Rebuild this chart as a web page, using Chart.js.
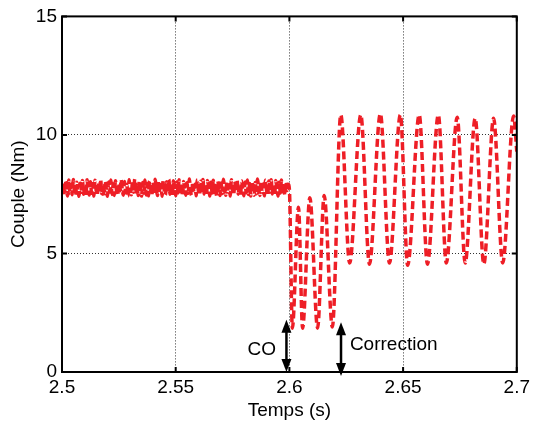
<!DOCTYPE html>
<html>
<head>
<meta charset="utf-8">
<script src="https://cdn.jsdelivr.net/npm/chart.js@4.4.0/dist/chart.umd.min.js"></script>
<style>
  html, body { margin: 0; padding: 0; background: #fff; }
</style>
</head>
<body>
<canvas id="chart1" width="534" height="425"></canvas>
<script>
// couple mesuré : bruit avant le défaut, puis oscillations
const noiseStart = 2.5;
const noiseStep = 0.0005;
const noiseTorque = [
  7.62, 7.98, 7.45, 8.05, 7.70, 7.42, 8.10, 7.55, 7.92, 7.48,
  8.12, 7.60, 7.44, 8.00, 7.75, 7.41, 7.96, 7.58, 8.08, 7.50,
  7.85, 7.43, 8.11, 7.66, 7.47, 8.03, 7.54, 7.94, 7.42, 8.09,
  7.68, 7.46, 7.99, 7.57, 8.13, 7.52, 7.88, 7.44, 8.06, 7.72,
  7.41, 8.01, 7.59, 8.10, 7.49, 7.93, 7.45, 8.07, 7.64, 7.43,
  7.97, 7.53, 8.12, 7.70, 7.46, 8.04, 7.56, 7.90, 7.42, 8.11,
  7.63, 7.48, 8.02, 7.58, 8.14, 7.51, 7.87, 7.44, 8.08, 7.74,
  7.42, 7.99, 7.55, 8.10, 7.47, 7.95, 7.43, 8.05, 7.67, 7.45,
  8.00, 7.52, 8.13, 7.71, 7.44, 8.06, 7.57, 7.91, 7.41, 8.09,
  7.65, 7.47, 8.03, 7.60, 8.12, 7.50, 7.89, 7.43, 8.07, 7.73,
  7.44, 8.01, 7.56, 8.11, 7.48, 7.96, 7.42, 8.04, 7.69, 7.46,
  7.98, 7.54, 8.14, 7.66, 7.45, 8.02, 7.59, 7.92, 7.43, 8.10,
  7.62, 7.49, 8.05, 7.57, 8.12, 7.51, 7.86, 7.44, 8.08, 7.75,
  7.42, 8.00, 7.55, 8.09, 7.47, 7.94, 7.43, 8.06, 7.68, 7.45,
  7.97, 7.53, 8.13, 7.70, 7.46, 8.03, 7.58, 7.90, 7.42, 8.11,
  7.64, 7.48, 8.04, 7.60, 8.12, 7.50, 7.88, 7.44, 8.07, 7.72,
  7.43, 8.01, 7.56, 8.10, 7.49, 7.95, 7.42, 8.05, 7.67, 7.46,
  7.99, 7.52, 8.14, 7.69, 7.45, 8.02, 7.57, 7.93, 7.43, 8.09,
  7.63, 7.47, 8.06, 7.59, 8.11, 7.51, 7.87, 7.44, 8.08, 7.74,
  7.42, 8.00, 7.55, 8.10, 7.48, 7.96, 7.45, 8.03, 7.66, 7.92,
  7.70
];

const oscTime = [
  2.6013, 2.6040, 2.6058, 2.6090, 2.6124, 2.6153, 2.6189,
  2.6226, 2.6265, 2.6314, 2.6352, 2.6400, 2.6440, 2.6488, 2.6520,
  2.6571, 2.6607, 2.6655, 2.6690, 2.6738, 2.6773, 2.6817, 2.6855,
  2.6898, 2.6938, 2.6986, 2.7000
];
const oscTorque = [
  1.85, 6.95, 1.85, 7.35, 1.85, 7.45, 1.90,
  10.85, 4.60, 10.85, 4.55, 10.90, 4.60, 10.85, 4.50,
  10.85, 4.55, 10.85, 4.60, 10.75, 4.60, 10.70, 4.55,
  10.70, 4.60, 10.80, 9.30
];

const xTicks = [2.5, 2.55, 2.6, 2.65, 2.7];
const yTicks = [0, 5, 10, 15];

// annotations (flèches doubles + texte)
const noteLabels = ['CO', 'Correction'];
const noteArrowX = [2.5987, 2.6227];
const noteArrowFrom = [0, -0.17];
const noteArrowTo = [2.2, 2.1];
const noteTextX = [2.5878, 2.6266];
const noteTextY = [0.93, 1.14];

const fontFamily = '"Liberation Sans", Arial, Helvetica, sans-serif';

const points = noiseTorque.map((v, i) => ({ x: noiseStart + i * noiseStep, y: v }))
  .concat(oscTime.map((t, i) => ({ x: t, y: oscTorque[i] })));

function drawArrowHead(ctx, x, y, dir) {
  // dir = -1 pointe vers le haut, 1 vers le bas
  ctx.beginPath();
  ctx.moveTo(x, y);
  ctx.lineTo(x - 5, y - dir * 13);
  ctx.lineTo(x + 5, y - dir * 13);
  ctx.closePath();
  ctx.fill();
}

const framePlugin = {
  id: 'frame',
  afterDraw(chart) {
    const ctx = chart.ctx;
    const area = chart.chartArea;
    const xs = chart.scales.x;
    const ys = chart.scales.y;
    ctx.save();
    ctx.strokeStyle = '#000';
    ctx.fillStyle = '#000';
    ctx.lineWidth = 2;
    ctx.strokeRect(area.left, area.top, area.right - area.left, area.bottom - area.top);

    // petites graduations vers l'intérieur
    xTicks.forEach(v => {
      const px = xs.getPixelForValue(v);
      ctx.beginPath();
      ctx.moveTo(px, area.bottom); ctx.lineTo(px, area.bottom - 5);
      ctx.moveTo(px, area.top); ctx.lineTo(px, area.top + 5);
      ctx.stroke();
    });
    yTicks.forEach(v => {
      const py = ys.getPixelForValue(v);
      ctx.beginPath();
      ctx.moveTo(area.left, py); ctx.lineTo(area.left + 5, py);
      ctx.moveTo(area.right, py); ctx.lineTo(area.right - 5, py);
      ctx.stroke();
    });

    // flèches
    noteLabels.forEach((label, i) => {
      const px = xs.getPixelForValue(noteArrowX[i]);
      const y1 = ys.getPixelForValue(noteArrowFrom[i]);
      const y2 = ys.getPixelForValue(noteArrowTo[i]);
      ctx.lineWidth = 2.5;
      ctx.beginPath();
      ctx.moveTo(px, y1 - 8); ctx.lineTo(px, y2 + 8);
      ctx.stroke();
      drawArrowHead(ctx, px, y2, -1);
      drawArrowHead(ctx, px, y1, 1);

      ctx.font = '19px ' + fontFamily;
      ctx.textBaseline = 'middle';
      ctx.textAlign = i === 0 ? 'center' : 'left';
      ctx.fillText(label, xs.getPixelForValue(noteTextX[i]), ys.getPixelForValue(noteTextY[i]));
    });
    ctx.restore();
  }
};

const ctx = document.getElementById('chart1').getContext('2d');
const torqueChart = new Chart(ctx, {
  type: 'line',
  data: {
    datasets: [{
      data: points,
      borderColor: 'rgb(238, 30, 38)',
      borderWidth: 3.5,
      borderDash: [8, 4],
      pointRadius: 0,
      cubicInterpolationMode: 'monotone',
      fill: false
    }]
  },
  options: {
    responsive: false,
    animation: false,
    layout: { padding: { top: 16, right: 14, left: 0, bottom: 0 } },
    plugins: { legend: { display: false }, tooltip: { enabled: false } },
    scales: {
      x: {
        type: 'linear',
        min: 2.5,
        max: 2.7,
        afterBuildTicks: s => { s.ticks = xTicks.map(v => ({ value: v })); },
        afterFit: s => { s.height = 53; },
        ticks: {
          callback: v => String(+v.toFixed(2)),
          font: { family: fontFamily, size: 19 },
          color: '#000',
          padding: 4,
          maxRotation: 0,
          autoSkip: false
        },
        grid: { color: '#333', lineWidth: 1, drawTicks: false },
        border: { display: false, dash: [1, 2] },
        title: {
          display: true,
          text: 'Temps (s)',
          color: '#000',
          font: { family: fontFamily, size: 19, lineHeight: 1.2 },
          padding: { top: 0, bottom: 3 }
        }
      },
      y: {
        min: 0,
        max: 15,
        afterBuildTicks: s => { s.ticks = yTicks.map(v => ({ value: v })); },
        afterFit: s => { s.width = 62; },
        ticks: {
          font: { family: fontFamily, size: 19 },
          color: '#000',
          padding: 5
        },
        grid: { color: '#333', lineWidth: 1, drawTicks: false },
        border: { display: false, dash: [1, 2] },
        title: {
          display: true,
          text: 'Couple (Nm)',
          color: '#000',
          font: { family: fontFamily, size: 19, lineHeight: 1.2 },
          padding: { top: 7, bottom: 0 }
        }
      }
    }
  },
  plugins: [framePlugin]
});
</script>
</body>
</html>
